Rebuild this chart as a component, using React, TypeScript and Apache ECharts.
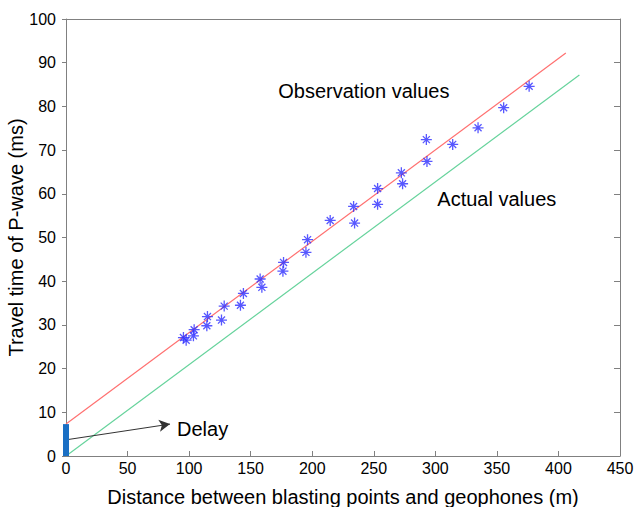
import React, { useEffect, useRef } from "react";
import * as echarts from "echarts";

const obsX = [95.4, 97.6, 104.1, 103.5, 114.9, 114.4, 128.5, 126.3, 144.1, 141.7, 157.7, 159.1, 176.7, 176.2, 196.2, 194.9, 214.6, 234.4, 233.6, 253.1, 253.1, 272.4, 273.4, 292.7, 293.2, 314.1, 334.7, 355.5, 376.2];
const obsY = [27.1, 26.5, 28.9, 27.5, 31.9, 29.8, 34.3, 31.1, 37.2, 34.5, 40.5, 38.6, 44.3, 42.3, 49.5, 46.6, 53.9, 53.3, 57.1, 61.2, 57.6, 64.8, 62.3, 72.4, 67.4, 71.3, 75.1, 79.7, 84.6];

const observedLine = [[0, 7.3], [406, 92.2]];
const actualLine = [[0, 0], [417, 87.2]];
const delayBar = [[0, 0], [0, 7.3]];
const delayArrow = [[0, 3.7], [84.5, 7.3]];

const annotations = [
  { text: "Observation values", x: 172.4, y: 83.5 },
  { text: "Actual values", x: 301.6, y: 58.7 },
  { text: "Delay", x: 90.2, y: 6.2 },
];

const xTitle = "Distance between blasting points and geophones (m)";
const yTitle = "Travel time of P-wave (ms)";

const FONT = "Liberation Sans, Arial, Helvetica, sans-serif";
const AXIS_GRAY = "#808080";

export default function App() {
  const ref = useRef<HTMLDivElement>(null);
  useEffect(() => {
    if (!ref.current) return;
    const chart = echarts.init(ref.current, null, { renderer: "svg" });
    const star = "path://M5,0L5,10M0,5L10,5M1.8,1.8L8.2,8.2M1.8,8.2L8.2,1.8";
    chart.setOption({
      animation: false,
      backgroundColor: "#fff",
      textStyle: { fontFamily: FONT },
      grid: { left: 66, right: 21, top: 19, bottom: 51, containLabel: false, outerBoundsMode: "none" },
      xAxis: [
        {
          type: "value",
          min: 0,
          max: 450,
          interval: 50,
          name: xTitle,
          nameLocation: "middle",
          nameGap: 31,
          nameTextStyle: { fontSize: 20, color: "#000", fontFamily: FONT },
          axisLine: { show: true, onZero: false, lineStyle: { color: AXIS_GRAY, width: 1 } },
          axisTick: { show: true, inside: true, length: 5, lineStyle: { color: AXIS_GRAY } },
          axisLabel: { fontSize: 16, color: "#000", margin: 4, fontFamily: FONT },
          splitLine: { show: false },
        },
        {
          type: "value",
          position: "top",
          min: 0,
          max: 450,
          interval: 50,
          axisLine: { show: true, onZero: false, lineStyle: { color: AXIS_GRAY, width: 1 } },
          axisTick: { show: false },
          axisLabel: { show: false },
          splitLine: { show: false },
        },
      ],
      yAxis: [
        {
          type: "value",
          min: 0,
          max: 100,
          interval: 10,
          name: yTitle,
          nameLocation: "middle",
          nameGap: 40,
          nameMoveOverlap: false,
          nameTextStyle: { fontSize: 20, color: "#000", fontFamily: FONT },
          axisLine: { show: true, onZero: false, lineStyle: { color: AXIS_GRAY, width: 1 } },
          axisTick: { show: true, inside: false, length: 4, lineStyle: { color: AXIS_GRAY } },
          axisLabel: { fontSize: 16, color: "#000", margin: 10, fontFamily: FONT },
          splitLine: { show: false },
        },
        {
          type: "value",
          position: "right",
          min: 0,
          max: 100,
          interval: 10,
          axisLine: { show: true, onZero: false, lineStyle: { color: AXIS_GRAY, width: 1 } },
          axisTick: { show: true, inside: true, length: 6, lineStyle: { color: AXIS_GRAY } },
          axisLabel: { show: false },
          splitLine: { show: false },
        },
      ],
      series: [
        {
          type: "line",
          data: observedLine,
          symbol: "none",
          lineStyle: { color: "#ff7070", width: 1.2 },
        },
        {
          type: "line",
          data: actualLine,
          symbol: "none",
          lineStyle: { color: "#66d39c", width: 1.2 },
        },
        {
          type: "line",
          data: delayBar,
          symbol: "none",
          clip: false,
          lineStyle: { color: "#1a6fc4", width: 6 },
          z: 5,
          markLine: {
            silent: true,
            symbol: ["none", "arrow"],
            symbolSize: [9, 11],
            label: { show: false },
            lineStyle: { color: "#333", width: 1, type: "solid" },
            data: [[{ coord: delayArrow[0] }, { coord: delayArrow[1] }]],
          },
        },
        {
          type: "scatter",
          data: obsX.map((x, i) => [x, obsY[i]]),
          symbol: star,
          symbolSize: 11,
          itemStyle: { color: "rgba(0,0,0,0)", borderColor: "#2e2eff", borderWidth: 1.3 },
          z: 4,
        },
      ],
    });
    const graphics = annotations.map((a) => {
      const p = chart.convertToPixel({ gridIndex: 0 }, [a.x, a.y]) as number[];
      return {
        type: "text",
        x: p[0],
        y: p[1],
        style: {
          text: a.text,
          fontSize: 20,
          fontFamily: FONT,
          fill: "#000",
          textAlign: "left",
          textVerticalAlign: "middle",
        },
        z: 10,
      };
    });
    chart.setOption({ graphic: graphics });
    return () => chart.dispose();
  }, []);
  return (
    <div
      ref={ref}
      style={{ position: "fixed", left: 0, top: 0, width: 641, height: 507 }}
    />
  );
}
